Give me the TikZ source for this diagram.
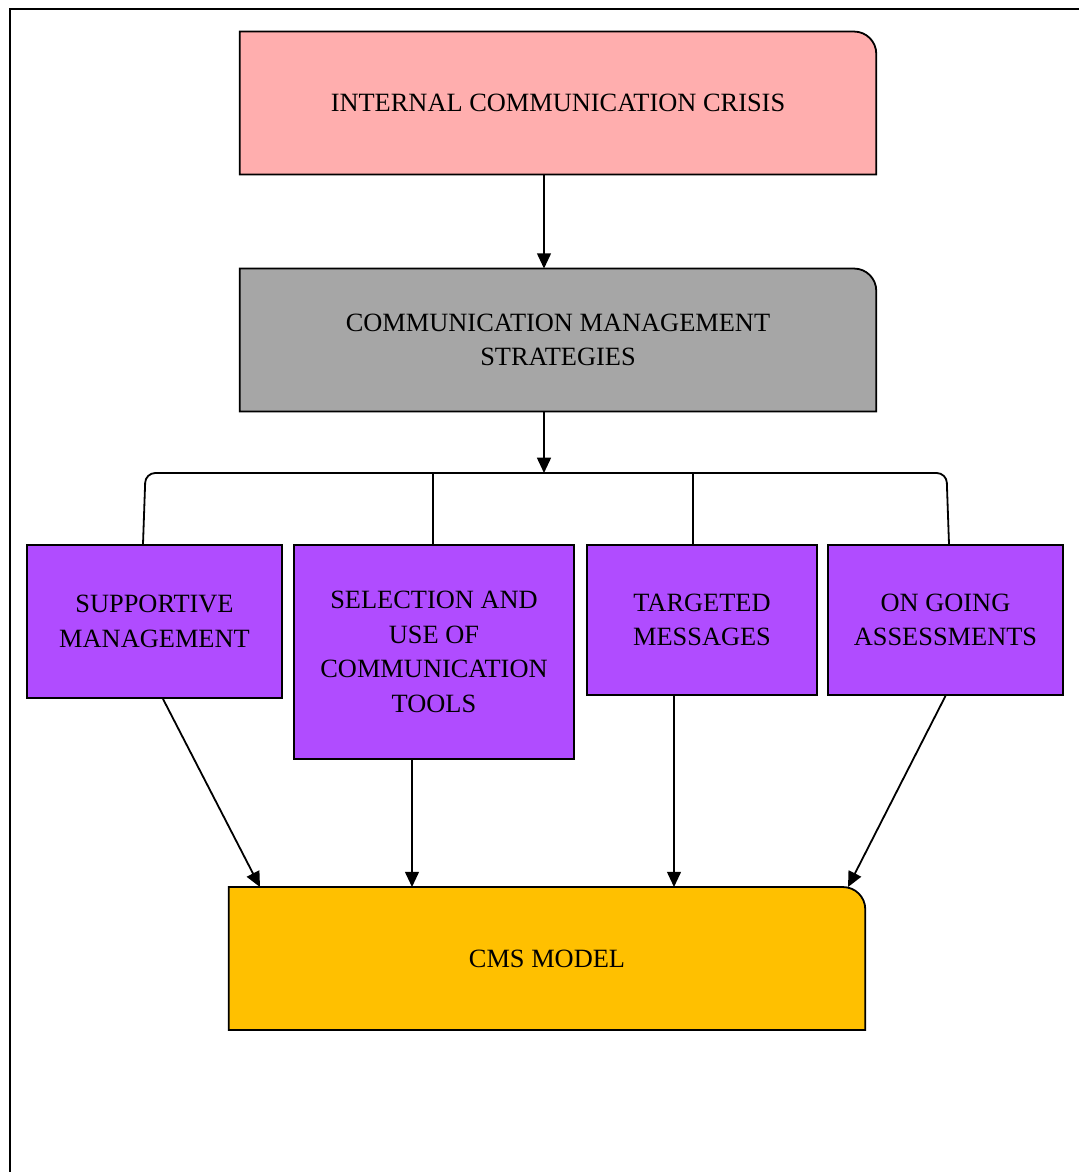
\documentclass[tikz,border=0pt]{standalone}
\usepackage{fontspec}
\setmainfont{Liberation Serif}
\usepackage{tikz}
\usetikzlibrary{calc,arrows.meta,backgrounds}

\definecolor{crisispink}{HTML}{FFAEAE}
\definecolor{stratgray}{HTML}{A6A6A6}
\definecolor{toolpurple}{HTML}{B04CFF}
\definecolor{modelgold}{HTML}{FFC000}

% box with one rounded corner (top right), drawn behind the node
\newcommand{\tabbox}[2]{%
  \begin{pgfonlayer}{background}
    \draw[line width=1.3pt, fill=#2] (#1.south west) -- (#1.north west)
      -- ([xshift=-16pt]#1.north east) arc[start angle=90, end angle=0, radius=16pt]
      -- (#1.south east) -- cycle;
  \end{pgfonlayer}}

\begin{document}
\begin{tikzpicture}[x=0.72pt, y=-0.72pt,
    every node/.style={font=\fontsize{19}{24.8}\selectfont, align=center, inner sep=0pt},
    bigbox/.style={minimum width=457.9pt, minimum height=102.5pt},
    sqbox/.style={draw, line width=1.3pt, fill=toolpurple},
    link/.style={line width=1.3pt},
    arrow/.style={line width=1.3pt, -{Triangle[length=11pt, width=10pt]}}]
                \useasboundingbox (0,0) rectangle (1079,1172);
                \draw [line width=1.6pt] (10,1172) -- (10,9) -- (1079,9);

                \node [bigbox] (crisis) at (558,103) {INTERNAL COMMUNICATION CRISIS};
                \tabbox{crisis}{crisispink}
                \node [bigbox] (strat) at (558,340) {COMMUNICATION MANAGEMENT\\STRATEGIES};
                \tabbox{strat}{stratgray}

                \node [sqbox, minimum width=183.6pt, minimum height=110.2pt] (sup) at (154.5,621.5) {SUPPORTIVE\\MANAGEMENT};
                \node [sqbox, minimum width=201.6pt, minimum height=154.1pt] (sel) at (434,652) {SELECTION AND\\USE OF\\COMMUNICATION\\TOOLS};
                \node [sqbox, minimum width=165.6pt, minimum height=108pt] (tgt) at (702,620) {TARGETED\\MESSAGES};
                \node [sqbox, minimum width=169.2pt, minimum height=108pt] (ong) at (945.5,620) {ON GOING\\ASSESSMENTS};

                \node [bigbox] (cms) at (547,958.5) {CMS MODEL};
                \tabbox{cms}{modelgold}

                \coordinate (split) at (544,473);
                \draw [arrow] (crisis.south -| split) -- (strat.north -| split);
                \draw [arrow] (strat.south -| split) -- (split);

                \draw [link, rounded corners=7pt] ($(sup.north)+(-11.5,0)$) -- ($(sup.north |- split)+(-9,0)$)
                      -- ($(ong.north |- split)+(1,0)$) -- ($(ong.north)+(3.5,0)$);
                \draw [link] ($(sel.north)+(-1,0)$) -- ($(sel.north |- split)+(-1,0)$);
                \draw [link] ($(tgt.north)+(-9,0)$) -- ($(tgt.north |- split)+(-9,0)$);

                \draw [arrow] ($(sup.south)+(8.5,0)$) -- ($(cms.north)+(-287,0)$);
                \draw [arrow] ($(sel.south)+(-22,0)$) -- ($(cms.north)+(-135,0)$);
                \draw [arrow] ($(tgt.south)+(-28,0)$) -- ($(cms.north)+(127,0)$);
                \draw [arrow] (ong.south) -- ($(cms.north)+(301,0)$);
            \end{tikzpicture}
\end{document}
